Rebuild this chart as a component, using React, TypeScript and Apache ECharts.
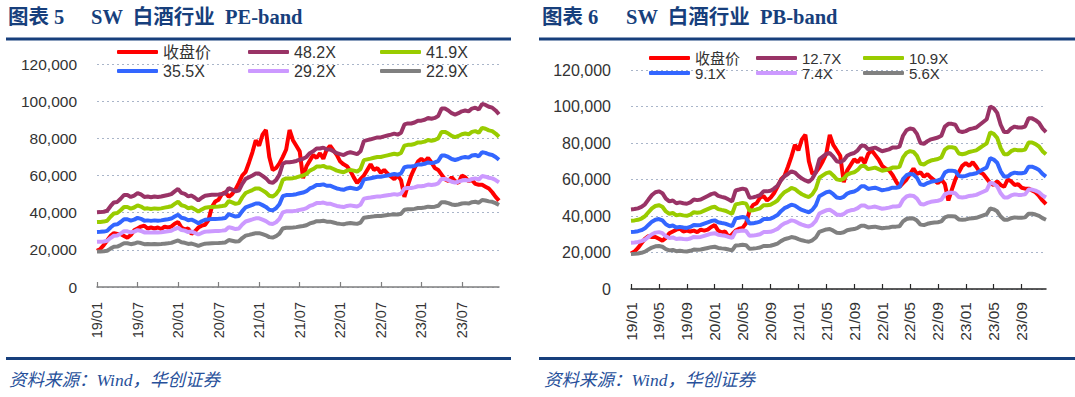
import React, { useEffect, useRef } from "react";
import * as echarts from "echarts";

// semi-monthly observation dates, 2019-01 .. 2023-12
const categories: string[] = [];
for (let y = 2019; y <= 2023; y++) {
  for (let mo = 1; mo <= 12; mo++) {
    const mm = String(mo).padStart(2, "0");
    categories.push(`${y}-${mm}-01`, `${y}-${mm}-16`);
  }
}

// SW 白酒 index close (shared by both charts)
const closePrice = [
  19500, 20500, 22500, 25000, 27500, 29000, 28500, 28500, 27500, 26500,
  28000, 30500, 31500, 32500, 33000, 31500, 32000, 31500, 32000, 31200,
  32500, 32000, 32500, 34000, 35000, 32000, 31000, 31500, 28500, 30000,
  32000, 33000, 33500, 36000, 43000, 46000, 47000, 50000, 51000, 48500,
  50000, 52500, 56000, 60000, 62000, 67000, 72500, 79000, 76000, 82000,
  84500, 70000, 63000, 64000, 66500, 70000, 74000, 84500, 79000, 76000,
  73000, 58500, 65000, 68000, 71000, 69500, 72000, 69000, 74000, 76000,
  73500, 71000, 67500, 66000, 65000, 62500, 59000, 56000, 58000, 60000,
  63000, 66000, 63000, 64000, 61500, 63000, 61000, 59500, 58000, 60000,
  57500, 48500, 54500, 60000, 64000, 67500, 69000, 67500, 69500, 67000,
  64000, 63000, 60500, 58000, 57000, 59000, 57000, 56000, 60000, 59000,
  57000, 57500, 55500, 55000, 55000, 54000, 53000, 51000, 48500, 46500,
];

// index earnings per share (1X PE line)
const peEps = [
  834, 836, 840, 851, 902, 944, 950, 985, 1027, 1027,
  1006, 1021, 1048, 1033, 1006, 1010, 1002, 1010, 1004, 1010,
  1019, 1027, 1037, 1068, 1095, 1050, 1039, 1012, 1021, 996,
  967, 996, 1019, 1025, 1029, 1031, 1033, 1039, 1046, 1104,
  1087, 1068, 1077, 1151, 1207, 1226, 1245, 1266, 1266, 1241,
  1214, 1172, 1162, 1193, 1255, 1376, 1394, 1394, 1398, 1407,
  1421, 1432, 1452, 1494, 1515, 1546, 1546, 1556, 1535, 1535,
  1515, 1494, 1483, 1473, 1494, 1504, 1494, 1483, 1515, 1629,
  1639, 1649, 1660, 1670, 1670, 1681, 1691, 1701, 1712, 1701,
  1722, 1815, 1826, 1826, 1836, 1857, 1857, 1867, 1888, 1878,
  1888, 1909, 1992, 1992, 1971, 1940, 1925, 1940, 1961, 1971,
  1961, 1992, 2002, 1981, 2044, 2033, 2012, 2002, 1971, 1929,
];

// index book value per share (1X PB line)
const pbBvps = [
  3433, 3449, 3480, 3543, 3654, 3858, 4055, 4173, 4213, 4134,
  3898, 3780, 3819, 3701, 3740, 3701, 3677, 3740, 3858, 3835,
  3858, 3937, 4016, 4094, 4134, 4016, 3976, 3937, 3858, 3780,
  4252, 4291, 4331, 4291, 3937, 3953, 4000, 4055, 4213, 4213,
  4236, 4331, 4449, 4685, 4866, 4961, 5079, 5024, 4882, 4764,
  4685, 4622, 4764, 5039, 5591, 5709, 5827, 5866, 5709, 5512,
  5472, 5551, 5748, 5827, 5866, 5984, 6181, 6181, 6024, 6063,
  6102, 6024, 5945, 5984, 6024, 6102, 6102, 6142, 6614, 6850,
  6929, 6890, 6693, 6299, 6260, 6378, 6457, 6496, 6535, 6614,
  7008, 7126, 7126, 7087, 6811, 6772, 6811, 6890, 6929, 6969,
  7087, 7205, 7323, 7874, 7795, 7598, 7087, 6772, 6772, 6929,
  7008, 6969, 6969, 7008, 7362, 7362, 7283, 7165, 6929, 6772,
];

const peMultiples = [48.2, 41.9, 35.5, 29.2, 22.9];
const pbMultiples = [12.7, 10.9, 9.1, 7.4, 5.6];
const closeName = "收盘价";
const closeColor = "#FF0000";
const bandColors = ["#993366", "#99CC00", "#3366FF", "#CC99FF", "#808080"];

const TITLE_BLUE = "#173f7c";
const LATIN = "'Liberation Sans', 'Noto Sans CJK SC', sans-serif";
const SERIF = "'Liberation Serif', 'Noto Sans CJK SC', serif";

export default function App() {
  const ref = useRef<HTMLDivElement>(null);
  useEffect(() => {
    if (!ref.current) return;
    const chart = echarts.init(ref.current, undefined, { renderer: "svg" });

    const panels = [
      {
        grid: { left: 97, top: 64, width: 402, height: 223 },
        base: peEps,
        mults: peMultiples,
        labelEvery: 12,
        yFont: 15.5,
        xFont: 14.5,
        legFont: 16,
        xMargin: 15,
        axisColor: "#7f7f7f",
        legendCols: [117, 248, 380],
        legendRows: [52, 71],
      },
      {
        grid: { left: 631, top: 70, width: 415, height: 219 },
        base: pbBvps,
        mults: pbMultiples,
        labelEvery: 8,
        yFont: 16,
        xFont: 15.5,
        legFont: 15,
        xMargin: 13,
        axisColor: "#262626",
        legendCols: [649, 756, 863],
        legendRows: [58, 73],
      },
    ];

    const grid: any[] = [];
    const xAxis: any[] = [];
    const yAxis: any[] = [];
    const series: any[] = [];
    const legend: any[] = [];

    panels.forEach((p, gi) => {
      grid.push({ ...p.grid, containLabel: false, outerBoundsMode: "none" });
      xAxis.push({
        gridIndex: gi,
        type: "category",
        data: categories,
        boundaryGap: false,
        axisLine: { lineStyle: { color: p.axisColor, width: 1.5 } },
        axisTick: {
          inside: true,
          length: 5,
          interval: p.labelEvery - 1,
          lineStyle: { color: p.axisColor, width: 1.2 },
        },
        axisLabel: {
          rotate: 90,
          interval: p.labelEvery - 1,
          margin: p.xMargin,
          fontSize: p.xFont,
          color: "#333333",
          fontFamily: LATIN,
          formatter: (v: string) => `${v.slice(2, 4)}/${v.slice(5, 7)}`,
        },
        splitLine: { show: false },
      });
      yAxis.push({
        gridIndex: gi,
        type: "value",
        min: 0,
        max: 120000,
        interval: 20000,
        axisLine: { show: false },
        axisTick: { show: false },
        axisLabel: {
          margin: 20,
          fontSize: p.yFont,
          color: "#333333",
          fontFamily: LATIN,
          formatter: (v: number) => v.toLocaleString("en-US"),
        },
        splitLine: {
          show: true,
          lineStyle: { color: "#a9b5c9", type: [2, 3], width: 1 },
        },
      });

      const names = [closeName, ...p.mults.map((m) => `${m.toFixed(1)}X`)];
      series.push({
        type: "line",
        name: closeName,
        xAxisIndex: gi,
        yAxisIndex: gi,
        data: closePrice,
        symbol: "none",
        lineStyle: { width: 4, color: closeColor },
        itemStyle: { color: closeColor },
        z: 2,
      });
      p.mults.forEach((m, k) => {
        series.push({
          type: "line",
          name: `${m.toFixed(1)}X`,
          xAxisIndex: gi,
          yAxisIndex: gi,
          data: p.base.map((b) => Math.round(b * m)),
          symbol: "none",
          lineStyle: { width: 4, color: bandColors[k] },
          itemStyle: { color: bandColors[k] },
          z: 3,
        });
      });

      names.forEach((nm, k) => {
        const col = k % 3;
        const row = Math.floor(k / 3);
        legend.push({
          data: [nm],
          left: p.legendCols[col],
          top: p.legendRows[row] - p.legFont / 2,
          padding: 0,
          icon: "roundRect",
          itemWidth: 41,
          itemHeight: 4,
          selectedMode: false,
          textStyle: {
            fontSize: p.legFont,
            lineHeight: p.legFont,
            color: "#333333",
            fontFamily: LATIN,
          },
        });
      });
    });

    const rule = (x: number, y: number, w: number) => ({
      type: "rect",
      shape: { x, y, width: w, height: 3 },
      style: { fill: TITLE_BLUE },
      silent: true,
    });
    const txt = (x: number, y: number, text: string, extra: any) => ({
      type: "text",
      x,
      y,
      silent: true,
      style: { text, verticalAlign: "middle", align: "left", ...extra },
    });
    const titleStyle = { fontSize: 20.5, fontWeight: "bold", fontFamily: SERIF, fill: TITLE_BLUE };
    const footStyle = { fontSize: 17.5, fontStyle: "italic", fontFamily: SERIF, fill: "#27509a" };

    const graphic = [
      txt(8, 17, "图表 5", titleStyle),
      txt(91, 17, "SW  白酒行业  PE-band", titleStyle),
      txt(542, 17, "图表 6", titleStyle),
      txt(626, 17, "SW  白酒行业  PB-band", titleStyle),
      rule(6, 37.5, 505),
      rule(539, 37.5, 536),
      rule(6, 357, 505),
      rule(539, 357, 536),
      txt(9, 380, "资料来源：Wind，华创证券", footStyle),
      txt(544, 380, "资料来源：Wind，华创证券", footStyle),
    ];

    chart.setOption({
      animation: false,
      backgroundColor: "#ffffff",
      textStyle: { fontFamily: LATIN },
      grid,
      xAxis,
      yAxis,
      series,
      legend,
      graphic,
    });
    return () => chart.dispose();
  }, []);

  return (
    <div
      ref={ref}
      style={{ position: "absolute", left: 0, top: 0, width: 1075, height: 397 }}
    />
  );
}
